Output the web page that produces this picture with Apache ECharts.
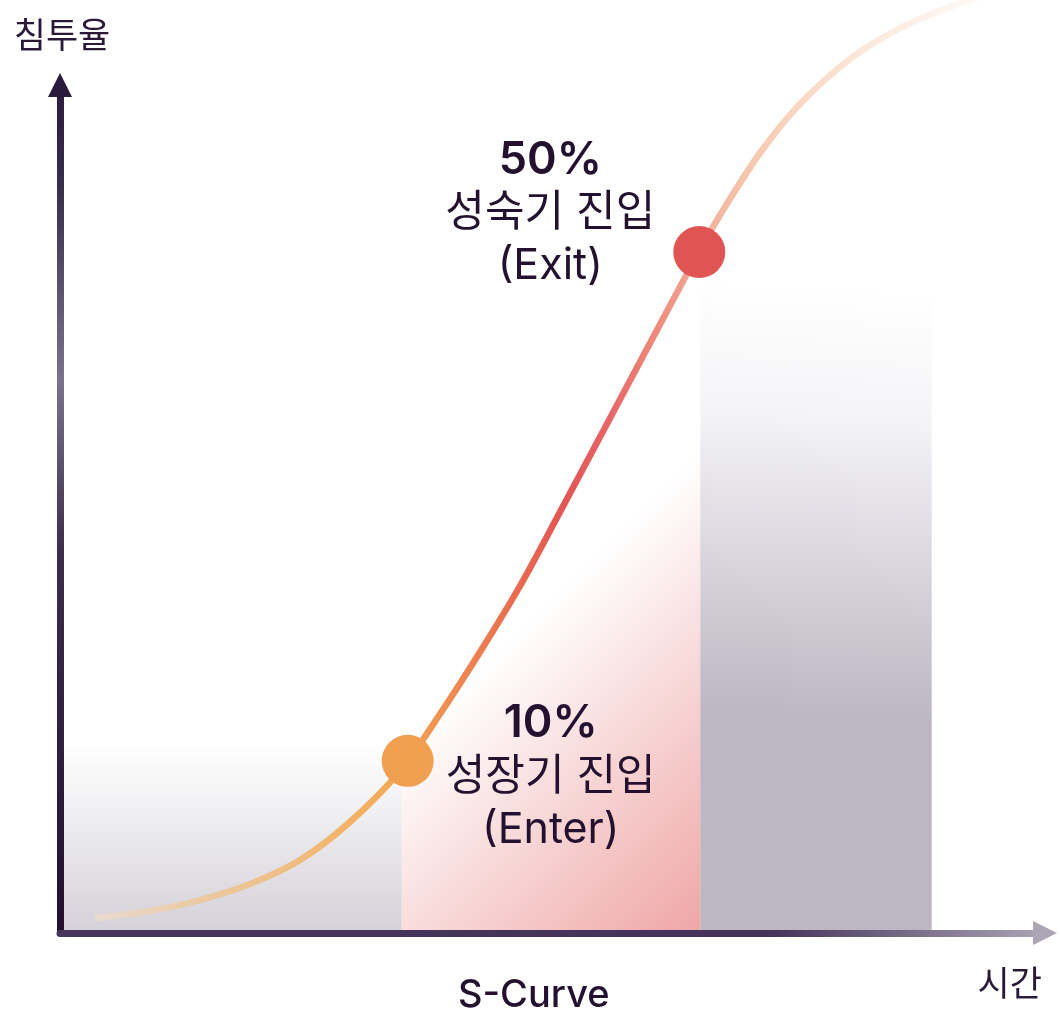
<!DOCTYPE html>
<html>
<head>
<meta charset="utf-8">
<title>S-Curve</title>
<script src="https://cdn.jsdelivr.net/npm/echarts@6/dist/echarts.min.js"></script>
<style>
  html, body { margin: 0; padding: 0; background: #fff; }
  #main { width: 1060px; height: 1023px; }
</style>
</head>
<body>
<div id="main"></div>
<script>
// S커브 (시간, 침투율) - 그림에서 읽은 값
var curveX = [3.55, 9.14, 14.21, 19.29, 24.37, 29.44, 34.52, 38.58, 42.64, 46.70, 50.76, 54.82, 58.88, 62.94, 64.87, 67.01, 71.07, 75.13, 80.20, 85.28, 90.36, 94.42];
var curveY = [1.77, 2.59, 3.89, 5.78, 8.61, 13.09, 19.10, 25.83, 33.14, 40.92, 49.65, 58.49, 67.33, 76.18, 80.31, 84.67, 91.98, 97.76, 103.07, 106.72, 109.20, 110.73];

// 진입 시점
var stageX = [35.3, 64.9];
var stageY = [20.3, 80.3];
var stagePct = ['10%', '50%'];
var stageName = ['성장기 진입', '성숙기 진입'];
var stageTag = ['(Enter)', '(Exit)'];

// 배경 구간
var regionStart = [0, 34.7, 65.0];
var regionEnd = [34.7, 65.0, 88.5];
var regionTop = [22.2, 80, 80];

var textColor = '#24112f';
var fontStack = "Inter, 'Noto Sans CJK KR', sans-serif";

var myChart = echarts.init(document.getElementById('main'));

var curveData = curveX.map(function (x, i) { return [x, curveY[i]]; });
var regionData = regionStart.map(function (s, i) { return [s, regionEnd[i], regionTop[i]]; });

var regionFills = [
    new echarts.graphic.LinearGradient(0, 0, 0, 1, [
        { offset: 0, color: '#ffffff' },
        { offset: 1, color: '#d4d1d8' }
    ]),
    new echarts.graphic.LinearGradient(0.58, 0.47, 1.385, 0.826, [
        { offset: 0, color: '#ffffff' },
        { offset: 1, color: '#efa6a6' }
    ]),
    new echarts.graphic.LinearGradient(0.55, 0.05, 0.45, 0.68, [
        { offset: 0, color: '#ffffff' },
        { offset: 0.3, color: '#f4f3f6' },
        { offset: 0.6, color: '#dcd9e0' },
        { offset: 1, color: '#bcb7c3' }
    ])
];

// 곡선 색 (가로 방향, 픽셀 좌표)
var curveColor = new echarts.graphic.LinearGradient(95, 0, 985, 0, [
    { offset: 0, color: '#e9dbd0' },
    { offset: 0.118, color: '#ebc9a3' },
    { offset: 0.23, color: '#efbc7f' },
    { offset: 0.298, color: '#f3b061' },
    { offset: 0.352, color: '#f2a455' },
    { offset: 0.388, color: '#ef9253' },
    { offset: 0.433, color: '#ec7d52' },
    { offset: 0.478, color: '#e86a50' },
    { offset: 0.53, color: '#e25555' },
    { offset: 0.575, color: '#e66565' },
    { offset: 0.624, color: '#ec8678' },
    { offset: 0.679, color: '#f2ac96' },
    { offset: 0.733, color: '#f6c7ae' },
    { offset: 0.807, color: '#f9dcc8' },
    { offset: 0.882, color: '#fcebe0' },
    { offset: 1, color: '#fefaf6' }
], true);

var xLineColor = new echarts.graphic.LinearGradient(0, 0, 1, 0, [
    { offset: 0, color: '#47345a' },
    { offset: 0.72, color: '#45335a' },
    { offset: 1, color: '#aca5b6' }
]);
var yLineColor = new echarts.graphic.LinearGradient(0, 0, 0, 1, [
    { offset: 0, color: '#2a1a3c' },
    { offset: 0.12, color: '#3a2c4c' },
    { offset: 0.35, color: '#7d7289' },
    { offset: 0.55, color: '#3c2d4d' },
    { offset: 1, color: '#220f30' }
]);

var stageColors = ['#f09f51', '#e15454'];
var labelOffsets = [[143, 16], [-149, -39]];

var stageData = stageX.map(function (x, i) {
    return {
        value: [x, stageY[i]],
        itemStyle: { color: stageColors[i], opacity: 1 },
        label: {
            show: true,
            position: 'inside',
            offset: labelOffsets[i],
            formatter: '{p|' + stagePct[i] + '}\n{t|' + stageName[i] + '}\n{t|' + stageTag[i] + '}'
        }
    };
});

function hidden() {
    return {
        axisTick: { show: false },
        axisLabel: { show: false },
        splitLine: { show: false }
    };
}

myChart.setOption({
    animation: false,
    title: {
        text: 'S-Curve',
        left: 458,
        top: 977,
        padding: 0,
        textStyle: { fontFamily: fontStack, fontSize: 38, fontWeight: 500, color: textColor }
    },
    grid: { left: 60, right: 15, top: 85, bottom: 90 },
    xAxis: [
        Object.assign({
            type: 'value', min: 0, max: 100, z: 5,
            axisLine: { show: true, onZero: false, lineStyle: { width: 7, color: xLineColor } },
            name: '시간',
            nameLocation: 'end',
            nameGap: -3,
            nameTextStyle: {
                fontFamily: "'Noto Sans CJK KR'", fontSize: 35, color: '#2a1a38',
                align: 'right', verticalAlign: 'top', padding: [32, 0, 0, 0]
            }
        }, hidden()),
        Object.assign({
            type: 'value', min: 0, max: 100, z: 6, position: 'bottom',
            axisLine: {
                show: true, onZero: false, symbol: ['none', 'triangle'], symbolSize: [24, 24],
                lineStyle: { width: 0, color: '#aca5b6' }
            }
        }, hidden())
    ],
    yAxis: [
        Object.assign({
            type: 'value', min: 0, max: 100, z: 5,
            axisLine: { show: true, onZero: false, lineStyle: { width: 7, color: yLineColor } },
            name: '침투율',
            nameLocation: 'end',
            nameGap: 50,
            nameTextStyle: {
                fontFamily: "'Noto Sans CJK KR'", fontSize: 35, color: '#2a1a38',
                align: 'center', verticalAlign: 'middle', padding: [0, 0, 0, 4]
            }
        }, hidden()),
        Object.assign({
            type: 'value', min: 0, max: 100, z: 6, position: 'left',
            axisLine: {
                show: true, onZero: false, symbol: ['none', 'triangle'], symbolSize: [24, 24],
                lineStyle: { width: 0, color: '#2a1a3c' }
            }
        }, hidden())
    ],
    series: [
        {
            type: 'custom',
            z: 1,
            silent: true,
            data: regionData,
            renderItem: function (params, api) {
                var p0 = api.coord([api.value(0), api.value(2)]);
                var p1 = api.coord([api.value(1), 0]);
                return {
                    type: 'rect',
                    shape: { x: p0[0], y: p0[1], width: p1[0] - p0[0], height: p1[1] - p0[1] },
                    style: { fill: regionFills[params.dataIndex] }
                };
            }
        },
        {
            type: 'line',
            z: 3,
            data: curveData,
            smooth: 0.33,
            showSymbol: false,
            clip: false,
            lineStyle: { width: 6.5, color: curveColor }
        },
        {
            type: 'scatter',
            z: 4,
            symbolSize: 52,
            data: stageData,
            itemStyle: { opacity: 1 },
            label: {
                color: textColor,
                opacity: 1,
                fontFamily: fontStack,
                align: 'center',
                verticalAlign: 'middle',
                rich: {
                    p: { fontFamily: fontStack, fontSize: 45, fontWeight: 600, lineHeight: 53, color: textColor, align: 'center' },
                    t: { fontFamily: fontStack, fontSize: 43, lineHeight: 53, color: textColor, align: 'center' }
                }
            }
        }
    ]
});
</script>
</body>
</html>
